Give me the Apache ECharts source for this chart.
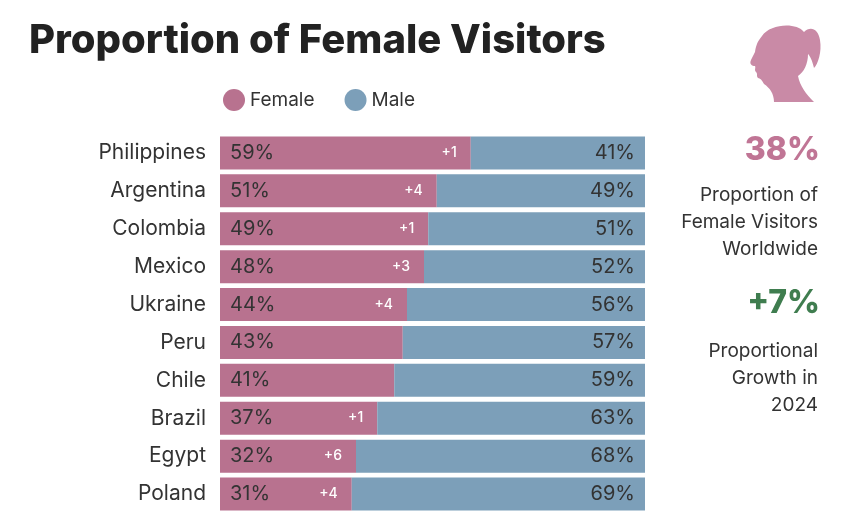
<!DOCTYPE html>
<html>
<head>
<meta charset="utf-8">
<script src="https://cdn.jsdelivr.net/npm/echarts@6/dist/echarts.min.js"></script>
<style>html,body{margin:0;background:#fff}#main{width:846px;height:515px}</style>
</head>
<body>
<div id="main"></div>
<script>
var countries = ['Philippines', 'Argentina', 'Colombia', 'Mexico', 'Ukraine', 'Peru', 'Chile', 'Brazil', 'Egypt', 'Poland'];
var female = [59, 51, 49, 48, 44, 43, 41, 37, 32, 31];
var male = [41, 49, 51, 52, 56, 57, 59, 63, 68, 69];
var growth = ['+1', '+4', '+1', '+3', '+4', '', '', '+1', '+6', '+4'];

var font = 'Inter';
var headPath = 'M18,14 C26,2 52,0 60,10 C66,4 74,6 76,18 C78,30 74,42 70,46 C68,38 66,34 64,32 C64,42 60,50 54,54 C56,64 62,72 70,80 L30,80 C30,72 26,66 20,62 C18,58 16,56 14,56 C12,54 14,52 12,50 C10,48 12,46 11,44 C8,44 5,42 7,38 C9,34 10,32 11,30 C12,24 13,20 18,14 Z';
var headSvg = 'data:image/svg+xml;charset=utf-8,' + encodeURIComponent(
    '<svg xmlns="http://www.w3.org/2000/svg" width="80" height="80" viewBox="0 0 80 80"><path fill="#c98aa6" d="' + headPath + '"/></svg>');

var chart = echarts.init(document.getElementById('main'));

chart.setOption({
    textStyle: { fontFamily: font },
    title: {
        text: 'Proportion of Female Visitors',
        left: 24, top: 16,
        textStyle: { fontFamily: font, fontSize: 40, fontWeight: 800, color: '#222' }
    },
    legend: {
        left: 218, top: 84,
        icon: 'circle', itemWidth: 22, itemHeight: 22, itemGap: 30,
        textStyle: { fontSize: 19, color: '#333' },
        data: ['Female', 'Male']
    },
    grid: { left: 220, right: 201, top: 134, bottom: 2 },
    xAxis: { type: 'value', min: 0, max: 100, show: false },
    yAxis: {
        type: 'category', data: countries, inverse: true,
        axisLine: { show: false }, axisTick: { show: false },
        axisLabel: { fontSize: 21, color: '#333', margin: 14 }
    },
    series: [{
        name: 'Female', type: 'bar', stack: 'a', barWidth: 33,
        data: female,
        itemStyle: { color: '#b8728f' },
        label: {
            show: true, position: 'insideLeft', distance: 10,
            fontSize: 20, color: '#333',
            formatter: function (p) { return p.value + '%'; }
        }
    }, {
        name: 'growth', type: 'bar', stack: 'b', barWidth: 33, barGap: '-100%',
        data: female, silent: true,
        itemStyle: { color: 'transparent' },
        label: {
            show: true, position: 'insideRight', distance: 14,
            fontSize: 14, fontWeight: 500, color: '#fff',
            formatter: function (p) { return growth[p.dataIndex]; }
        }
    }, {
        name: 'Male', type: 'bar', stack: 'a', barWidth: 33,
        data: male,
        itemStyle: { color: '#7c9fb9' },
        label: {
            show: true, position: 'insideRight', distance: 10,
            fontSize: 20, color: '#333',
            formatter: function (p) { return p.value + '%'; }
        }
    }],
    graphic: [{
        type: 'image', x: 744, y: 22,
        style: { image: headSvg, width: 80, height: 80 }
    }, {
        type: 'text', x: 820, y: 150, style: {
            text: '38%', align: 'right', verticalAlign: 'middle',
            font: '800 32px Inter', fill: '#c07595'
        }
    }, {
        type: 'text', x: 818, y: 222, style: {
            text: 'Proportion of\nFemale Visitors\nWorldwide', align: 'right', verticalAlign: 'middle',
            font: '19px Inter', fill: '#333', lineHeight: 27
        }
    }, {
        type: 'text', x: 820, y: 303, style: {
            text: '+7%', align: 'right', verticalAlign: 'middle',
            font: '800 32px Inter', fill: '#3f7d4f'
        }
    }, {
        type: 'text', x: 818, y: 378, style: {
            text: 'Proportional\nGrowth in\n2024', align: 'right', verticalAlign: 'middle',
            font: '19px Inter', fill: '#333', lineHeight: 27
        }
    }]
});
</script>
</body>
</html>
